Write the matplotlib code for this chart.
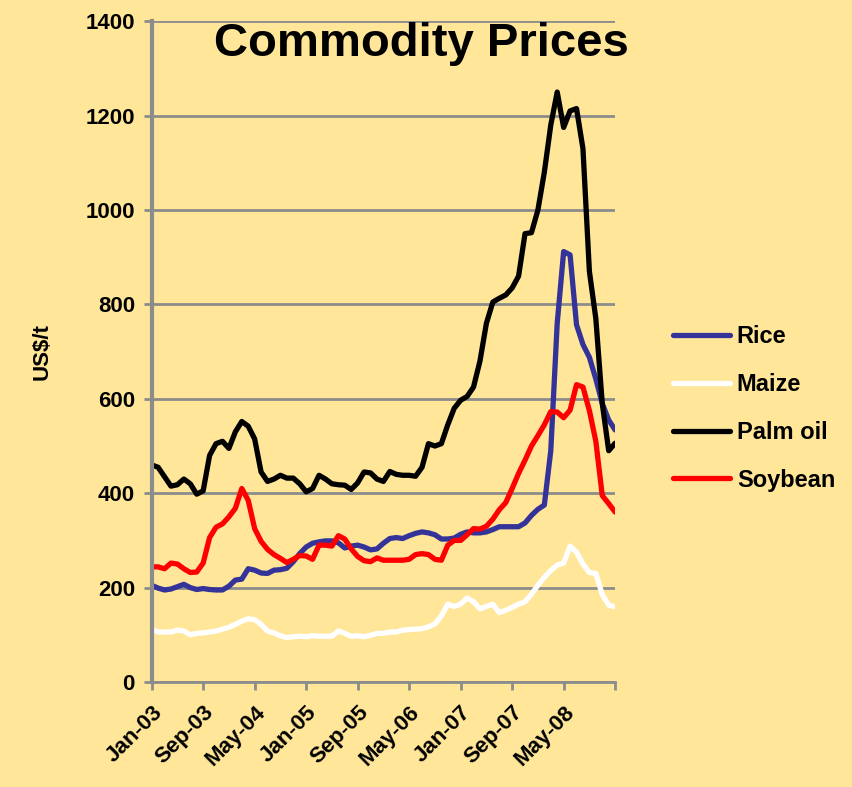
"""Commodity prices 2003-2008, monthly, US$/t."""

import matplotlib
matplotlib.use("Agg")
import matplotlib.pyplot as plt
import numpy as np

plt.rcParams["font.family"] = ["Liberation Sans", "DejaVu Sans"]

# monthly points, Jan-03 onward
rice = [205, 199, 195, 197, 202, 207, 200, 196, 198, 196, 195, 195,
        203, 216, 218, 240, 237, 231, 230, 237, 238, 241, 255, 272,
        286, 294, 297, 299, 299, 295, 284, 288, 290, 286, 280, 282,
        294, 304, 306, 304, 310, 315, 318, 316, 312, 303, 303, 305,
        313, 318, 316, 316, 318, 323, 329, 329, 329, 329, 337, 353,
        366, 375, 490, 760, 912, 905, 757, 715, 688, 642, 590, 555, 534]
maize = [111, 106, 106, 106, 110, 108, 100, 103, 104, 106, 108, 112,
         116, 122, 129, 134, 132, 122, 108, 104, 98, 94, 96, 97,
         96, 98, 97, 97, 97, 108, 103, 97, 98, 96, 99, 103,
         103, 106, 106, 110, 111, 112, 113, 117, 123, 140, 165, 160,
         165, 178, 170, 155, 160, 165, 147, 152, 158, 165, 170, 186,
         205, 222, 236, 248, 252, 288, 275, 250, 232, 230, 185, 163, 159]
palm_oil = [460, 455, 435, 415, 418, 430, 420, 398, 405, 480, 505, 510,
            495, 530, 552, 542, 515, 445, 425, 430, 438, 432, 432, 420,
            403, 410, 438, 430, 420, 418, 417, 408, 422, 445, 443, 430,
            425, 446, 440, 438, 438, 436, 455, 505, 500, 505, 545, 580,
            597, 605, 625, 680, 760, 805, 813, 820, 835, 860, 950, 952,
            1000, 1080, 1180, 1250, 1175, 1210, 1215, 1130, 870, 770, 590, 490, 506]
soybean = [244, 244, 240, 252, 250, 240, 232, 233, 252, 306, 328, 335,
           350, 368, 410, 385, 325, 298, 281, 270, 262, 253, 260, 268,
           267, 260, 290, 290, 288, 310, 303, 282, 266, 257, 255, 263,
           258, 258, 258, 258, 260, 270, 272, 270, 260, 258, 290, 300,
           300, 312, 325, 324, 330, 345, 365, 380, 410, 442, 470, 500,
           522, 545, 573, 572, 560, 576, 630, 625, 575, 510, 395, 378, 360]

tick_labels = ["Jan-03", "Sep-03", "May-04", "Jan-05", "Sep-05",
               "May-06", "Jan-07", "Sep-07", "May-08", ""]

series = [
    ("Rice", rice, "#333399"),
    ("Maize", maize, "#FFFFFF"),
    ("Palm oil", palm_oil, "#000000"),
    ("Soybean", soybean, "#FF0000"),
]

bg = "#FFE699"
grey = "#8C8C8C"

fig = plt.figure(figsize=(8.52, 7.87), dpi=100, facecolor=bg)
ax = fig.add_axes([0.178, 0.1334, 0.544, 0.8396], facecolor=bg)

x = np.arange(len(rice))
for name, vals, color in series:
    ax.plot(x, vals, color=color, linewidth=3.8, label=name,
            solid_capstyle="round", solid_joinstyle="round")

ax.set_xlim(0, len(rice) - 1)
ax.set_ylim(0, 1400)
ax.set_yticks(np.arange(0, 1401, 200))
ax.set_xticks(np.arange(0, len(rice), 8))
ax.set_xticklabels(tick_labels, rotation=45, ha="right", va="top",
                   rotation_mode="anchor", fontsize=16, fontweight="bold")
ax.tick_params(axis="y", labelsize=16, width=2, length=6, color=grey, pad=6)
ax.tick_params(axis="x", width=2, length=6, color=grey, pad=8)
for lab in ax.get_yticklabels():
    lab.set_fontweight("bold")

ax.grid(axis="y", color=grey, linewidth=2)
ax.set_axisbelow(True)
for side in ("top", "right"):
    ax.spines[side].set_visible(False)
ax.spines["left"].set_color(grey)
ax.spines["left"].set_linewidth(3)
ax.spines["bottom"].set_color(grey)
ax.spines["bottom"].set_linewidth(2)

ax.set_ylabel("US$/t", fontsize=16, fontweight="bold", labelpad=24)
ax.text(0.583, 0.965, "Commodity Prices", transform=ax.transAxes,
        ha="center", va="center", fontsize=34, fontweight="bold")

leg = fig.legend(loc="center left", bbox_to_anchor=(0.765, 0.481),
                 frameon=False, fontsize=17, handlelength=2.4,
                 labelspacing=1.05, handletextpad=0.3)
for t in leg.get_texts():
    t.set_fontweight("bold")

fig.savefig("out.png", dpi=100, facecolor=bg)
